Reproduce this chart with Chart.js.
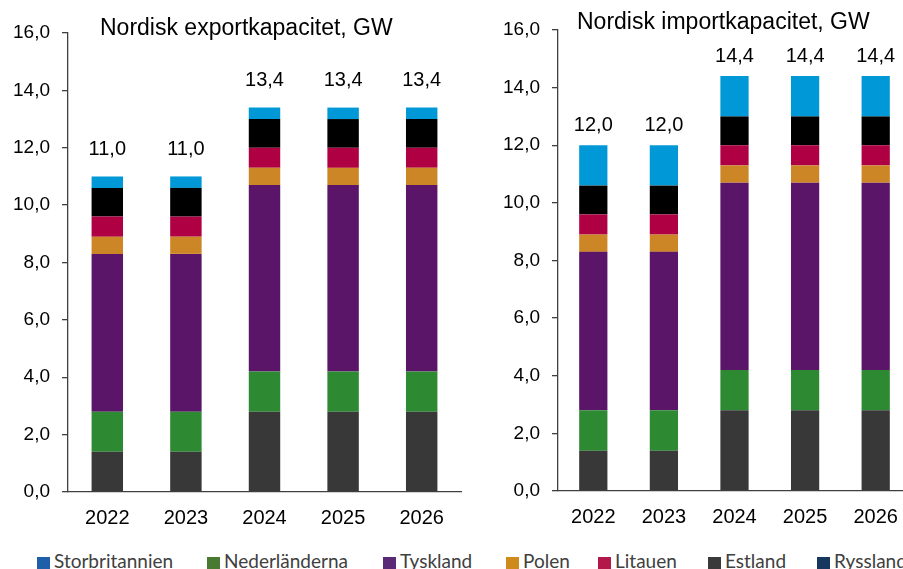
<!DOCTYPE html>
<html>
<head>
<meta charset="utf-8">
<script src="https://cdn.jsdelivr.net/npm/chart.js@4.4.0/dist/chart.umd.min.js"></script>
<style>
  html, body { margin: 0; padding: 0; background: #fff; width: 903px; height: 569px; overflow: hidden; }
  #left { position: absolute; left: 0; top: 0; width: 470px; height: 545px; }
  #right { position: absolute; left: 480px; top: 0; width: 440px; height: 545px; }
  .leg { position: absolute; top: 549px; font: 19px Lato, "Liberation Sans Narrow", sans-serif; color: #404040; white-space: nowrap; }
  .leg i { display: inline-block; width: 13px; height: 12px; margin-right: 4px; vertical-align: -1px; }
</style>
</head>
<body>
<div id="left"><canvas id="exportChart"></canvas></div>
<div id="right"><canvas id="importChart"></canvas></div>
<div id="legend"></div>
<script>
// years and countries
const years = ['2022', '2023', '2024', '2025', '2026'];
const countries = ['Storbritannien', 'Nederländerna', 'Tyskland', 'Polen', 'Litauen', 'Estland', 'Ryssland'];

// export capacity, GW
const expStorbritannien = [1.4, 1.4, 2.8, 2.8, 2.8];
const expNederlanderna  = [1.4, 1.4, 1.4, 1.4, 1.4];
const expTyskland       = [5.5, 5.5, 6.5, 6.5, 6.5];
const expPolen          = [0.6, 0.6, 0.6, 0.6, 0.6];
const expLitauen        = [0.7, 0.7, 0.7, 0.7, 0.7];
const expEstland        = [1.0, 1.0, 1.0, 1.0, 1.0];
const expRyssland       = [0.4, 0.4, 0.4, 0.4, 0.4];

// import capacity, GW
const impStorbritannien = [1.4, 1.4, 2.8, 2.8, 2.8];
const impNederlanderna  = [1.4, 1.4, 1.4, 1.4, 1.4];
const impTyskland       = [5.5, 5.5, 6.5, 6.5, 6.5];
const impPolen          = [0.6, 0.6, 0.6, 0.6, 0.6];
const impLitauen        = [0.7, 0.7, 0.7, 0.7, 0.7];
const impEstland        = [1.0, 1.0, 1.0, 1.0, 1.0];
const impRyssland       = [1.4, 1.4, 1.4, 1.4, 1.4];

// colours used on the bars and (different ones) in the legend
const barColors = ['#383838', '#2e8a32', '#5a1568', '#cc8626', '#ae0042', '#000000', '#0098d6'];
const legendColors = ['#1f5ea8', '#4a7a32', '#5b2a76', '#cf8a1c', '#b3184a', '#3a3a3a', '#17375e'];
const legendX = [37, 207, 383, 506, 598, 708, 817];

const fmt = v => v.toFixed(1).replace('.', ',');

// totals above bars + panel title
const totalsPlugin = {
  id: 'totals',
  afterDatasetsDraw(chart, args, opts) {
    const ctx = chart.ctx;
    const x = chart.scales.x, y = chart.scales.y;
    ctx.save();
    ctx.fillStyle = '#000';
    ctx.font = '20px "Liberation Sans", Arial, sans-serif';
    ctx.textAlign = 'center';
    ctx.textBaseline = 'middle';
    years.forEach((yr, i) => {
      let sum = 0;
      chart.data.datasets.forEach(d => { sum += d.data[i]; });
      ctx.fillText(fmt(sum), x.getPixelForValue(i), y.getPixelForValue(sum) - opts.offset);
    });
    ctx.font = '23px "Liberation Sans", Arial, sans-serif';
    ctx.textAlign = 'left';
    ctx.textBaseline = 'alphabetic';
    ctx.fillText(opts.title, opts.titleX, opts.titleY);
    ctx.restore();
  }
};

function makeChart(id, series, yWidth, padTop, xHeight, plug) {
  const ctx = document.getElementById(id).getContext('2d');
  return new Chart(ctx, {
    type: 'bar',
    data: {
      labels: years,
      datasets: series.map((s, k) => ({
        label: countries[k],
        data: s,
        backgroundColor: barColors[k],
        borderWidth: 0,
        barPercentage: 0.4,
        categoryPercentage: 1.0
      }))
    },
    options: {
      responsive: true,
      maintainAspectRatio: false,
      animation: false,
      layout: { padding: { top: padTop, right: 9, left: 0, bottom: 0 } },
      plugins: {
        legend: { display: false },
        tooltip: { enabled: false },
        totals: plug
      },
      scales: {
        x: {
          stacked: true,
          grid: { display: false, drawTicks: false },
          border: { display: true, color: '#404040', width: 1.3 },
          ticks: { color: '#000', padding: 14, font: { family: '"Liberation Sans", Arial', size: 20 } },
          afterFit: function(scale) { scale.height = xHeight; }
        },
        y: {
          stacked: true,
          min: 0,
          max: 16,
          grid: { drawOnChartArea: false, drawTicks: true, tickLength: 6, color: '#404040', lineWidth: 1.3 },
          border: { display: true, color: '#404040', width: 1.3 },
          ticks: {
            stepSize: 2,
            color: '#000',
            padding: 12,
            font: { family: '"Liberation Sans", Arial', size: 19 },
            callback: function(value) { return fmt(value); }
          },
          afterFit: function(scale) { scale.width = yWidth; }
        }
      }
    },
    plugins: [totalsPlugin]
  });
}

makeChart('exportChart',
  [expStorbritannien, expNederlanderna, expTyskland, expPolen, expLitauen, expEstland, expRyssland],
  68, 33, 53,
  { offset: 27, title: 'Nordisk exportkapacitet, GW', titleX: 100, titleY: 35 });

makeChart('importChart',
  [impStorbritannien, impNederlanderna, impTyskland, impPolen, impLitauen, impEstland, impRyssland],
  78, 30, 54,
  { offset: 20, title: 'Nordisk importkapacitet, GW', titleX: 97, titleY: 29 });

// legend (colours differ from the bars, as in the original)
const legend = document.getElementById('legend');
countries.forEach((c, k) => {
  const d = document.createElement('div');
  d.className = 'leg';
  d.style.left = legendX[k] + 'px';
  d.innerHTML = '<i style="background:' + legendColors[k] + '"></i>' + c;
  legend.appendChild(d);
});
</script>
</body>
</html>
